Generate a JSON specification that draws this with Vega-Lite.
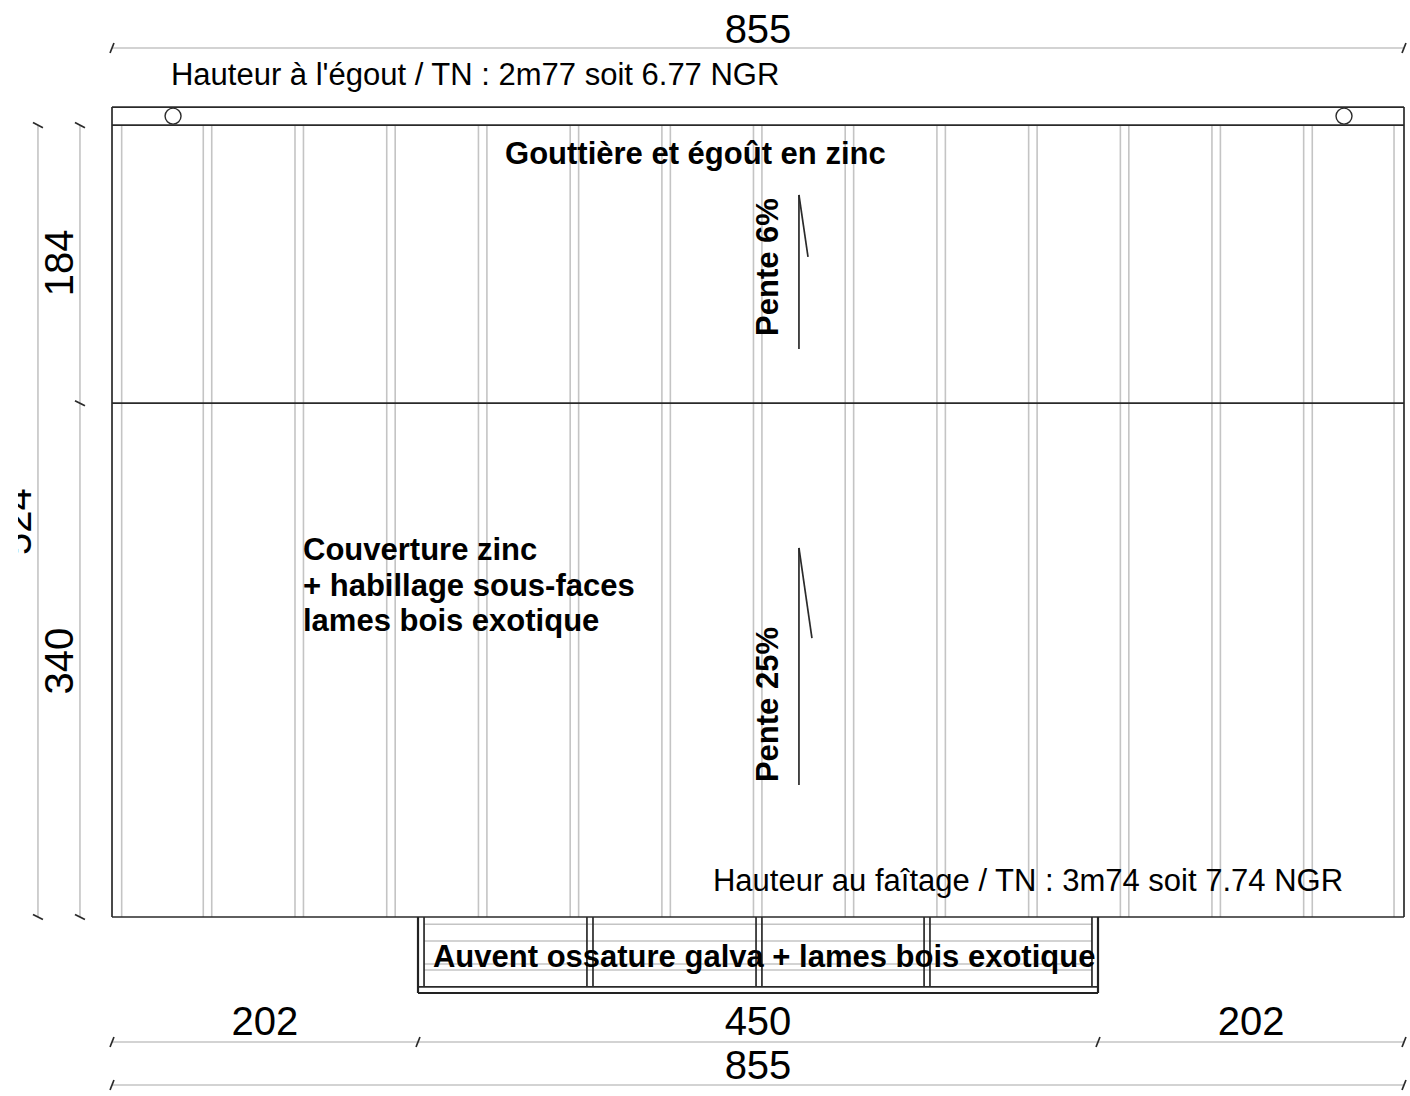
{"$schema":"https://vega.github.io/schema/vega-lite/v6.json","width":1410,"height":1096,"padding":0,"autosize":{"type":"none"},"background":"white","config":{"view":{"stroke":null}},
"datasets":{
"gray":[
{"x":6.4,"y":0,"x2":6.4,"y2":524},{"x":60.4,"y":0,"x2":60.4,"y2":524},{"x":66.0,"y":0,"x2":66.0,"y2":524},{"x":121.1,"y":0,"x2":121.1,"y2":524},{"x":126.7,"y":0,"x2":126.7,"y2":524},{"x":181.8,"y":0,"x2":181.8,"y2":524},{"x":187.4,"y":0,"x2":187.4,"y2":524},{"x":242.5,"y":0,"x2":242.5,"y2":524},{"x":248.1,"y":0,"x2":248.1,"y2":524},{"x":303.2,"y":0,"x2":303.2,"y2":524},{"x":308.8,"y":0,"x2":308.8,"y2":524},{"x":363.9,"y":0,"x2":363.9,"y2":524},{"x":369.5,"y":0,"x2":369.5,"y2":524},{"x":424.5,"y":0,"x2":424.5,"y2":524},{"x":430.1,"y":0,"x2":430.1,"y2":524},{"x":485.2,"y":0,"x2":485.2,"y2":524},{"x":490.8,"y":0,"x2":490.8,"y2":524},{"x":545.9,"y":0,"x2":545.9,"y2":524},{"x":551.5,"y":0,"x2":551.5,"y2":524},{"x":606.6,"y":0,"x2":606.6,"y2":524},{"x":612.2,"y":0,"x2":612.2,"y2":524},{"x":667.3,"y":0,"x2":667.3,"y2":524},{"x":672.9,"y":0,"x2":672.9,"y2":524},{"x":727.9,"y":0,"x2":727.9,"y2":524},{"x":733.5,"y":0,"x2":733.5,"y2":524},{"x":788.6,"y":0,"x2":788.6,"y2":524},{"x":794.3,"y":0,"x2":794.3,"y2":524},{"x":848.4,"y":0,"x2":848.4,"y2":524},
{"x":0,"y":575.1,"x2":855,"y2":575.1},{"x":0,"y":-82.7,"x2":855,"y2":-82.7},{"x":0,"y":-111.2,"x2":855,"y2":-111.2},
{"x":-49,"y":0,"x2":-49,"y2":524},{"x":-21.2,"y":0,"x2":-21.2,"y2":524},
{"x":206.5,"y":-4.8,"x2":648.5,"y2":-4.8},{"x":206.5,"y":-15.9,"x2":648.5,"y2":-15.9},{"x":206.5,"y":-31.1,"x2":648.5,"y2":-31.1},{"x":206.5,"y":-35.1,"x2":648.5,"y2":-35.1}],
"dark":[
{"x":0,"y":0,"x2":855,"y2":0},{"x":0,"y":340,"x2":855,"y2":340},{"x":0,"y":524,"x2":855,"y2":524},{"x":0,"y":536,"x2":855,"y2":536},
{"x":0,"y":0,"x2":0,"y2":536},{"x":855,"y":0,"x2":855,"y2":536},
{"x":206.5,"y":0,"x2":206.5,"y2":-46.3},{"x":314.3,"y":0,"x2":314.3,"y2":-46.3},{"x":318.3,"y":0,"x2":318.3,"y2":-46.3},{"x":426.2,"y":0,"x2":426.2,"y2":-46.3},{"x":430.1,"y":0,"x2":430.1,"y2":-46.3},{"x":537.4,"y":0,"x2":537.4,"y2":-46.3},{"x":541.3,"y":0,"x2":541.3,"y2":-46.3},{"x":648.5,"y":0,"x2":648.5,"y2":-46.3},
{"x":202.5,"y":-46.3,"x2":652.5,"y2":-46.3},
{"x":454.6,"y":477.8,"x2":454.6,"y2":375.9},{"x":454.6,"y":477.8,"x2":460.6,"y2":436.8},
{"x":454.6,"y":244.2,"x2":454.6,"y2":87.4},{"x":454.6,"y":244.2,"x2":463.2,"y2":184.6},
{"x":-1.3,"y":571.8,"x2":1.3,"y2":578.4},{"x":853.7,"y":571.8,"x2":856.3,"y2":578.4},
{"x":-1.3,"y":-86,"x2":1.3,"y2":-79.4},{"x":201.2,"y":-86,"x2":203.8,"y2":-79.4},{"x":651.2,"y":-86,"x2":653.8,"y2":-79.4},{"x":853.7,"y":-86,"x2":856.3,"y2":-79.4},
{"x":-1.3,"y":-114.5,"x2":1.3,"y2":-107.9},{"x":853.7,"y":-114.5,"x2":856.3,"y2":-107.9},
{"x":-52.3,"y":1.7,"x2":-45.7,"y2":-1.7},{"x":-52.3,"y":525.7,"x2":-45.7,"y2":522.3},
{"x":-24.5,"y":1.7,"x2":-17.9,"y2":-1.7},{"x":-24.5,"y":341.7,"x2":-17.9,"y2":338.3},{"x":-24.5,"y":525.7,"x2":-17.9,"y2":522.3}],
"heavy":[{"x":202.5,"y":-50.3,"x2":652.5,"y2":-50.3},{"x":202.5,"y":0,"x2":202.5,"y2":-50.3},{"x":652.5,"y":0,"x2":652.5,"y2":-50.3}],
"holes":[{"x":40.4,"y":530},{"x":815.3,"y":530}],
"dims":[{"x":427.5,"y":578.4,"label":"855"},{"x":101.2,"y":-78.1,"label":"202"},{"x":427.5,"y":-78.1,"label":"450"},{"x":753.8,"y":-78.1,"label":"202"},{"x":427.5,"y":-107.2,"label":"855"}],
"dimsV":[{"x":-25.8,"y":432.8,"label":"184"},{"x":-25.8,"y":169.4,"label":"340"},{"x":-53.6,"y":261.7,"label":"524"}],
"notes":[{"x":39,"y":550.6,"label":"Hauteur à l'égout / TN : 2m77 soit 6.77 NGR"},{"x":397.7,"y":17.2,"label":"Hauteur au faîtage / TN : 3m74 soit 7.74 NGR"}],
"bold":[{"x":260.1,"y":498.3,"label":"Gouttière et égoût en zinc"},{"x":126.4,"y":236.3,"label":"Couverture zinc"},{"x":126.4,"y":212.4,"label":"+ habillage sous-faces"},{"x":126.4,"y":189.3,"label":"lames bois exotique"},{"x":212.4,"y":-33.1,"label":"Auvent ossature galva + lames bois exotique"}],
"boldV":[{"x":440.7,"y":384.5,"label":"Pente 6%"},{"x":440.7,"y":89.3,"label":"Pente 25%"}],
"mask":[{"x":-74.1,"x2":-62.2,"y":232.9,"y2":289.2}]
},
"encoding":{"x":{"field":"x","type":"quantitative","axis":null,"scale":{"domain":[-74.12,858.97],"nice":false,"zero":false}},"y":{"field":"y","type":"quantitative","axis":null,"scale":{"domain":[-118.46,606.84],"nice":false,"zero":false}}},
"layer":[
{"data":{"name":"gray"},"mark":{"type":"rule","stroke":"#c4c4c4","strokeWidth":1.6},"encoding":{"x2":{"field":"x2"},"y2":{"field":"y2"}}},
{"data":{"name":"dark"},"mark":{"type":"rule","stroke":"#2a2a2a","strokeWidth":1.7},"encoding":{"x2":{"field":"x2"},"y2":{"field":"y2"}}},
{"data":{"name":"heavy"},"mark":{"type":"rule","stroke":"#222222","strokeWidth":2.2},"encoding":{"x2":{"field":"x2"},"y2":{"field":"y2"}}},
{"data":{"name":"holes"},"mark":{"type":"point","shape":"circle","filled":false,"stroke":"#2a2a2a","strokeWidth":1.4,"size":256,"opacity":1}},
{"data":{"name":"dims"},"mark":{"type":"text","font":"Liberation Sans","fontSize":40,"align":"center","baseline":"alphabetic","fill":"#000000"},"encoding":{"text":{"field":"label"}}},
{"data":{"name":"dimsV"},"mark":{"type":"text","font":"Liberation Sans","fontSize":40,"align":"center","baseline":"alphabetic","angle":270,"fill":"#000000"},"encoding":{"text":{"field":"label"}}},
{"data":{"name":"mask"},"mark":{"type":"rect","fill":"white"},"encoding":{"x2":{"field":"x2"},"y2":{"field":"y2"}}},
{"data":{"name":"notes"},"mark":{"type":"text","font":"Liberation Sans","fontSize":31,"align":"left","baseline":"alphabetic","fill":"#000000"},"encoding":{"text":{"field":"label"}}},
{"data":{"name":"bold"},"mark":{"type":"text","font":"Liberation Sans","fontSize":31,"fontWeight":"bold","align":"left","baseline":"alphabetic","fill":"#000000"},"encoding":{"text":{"field":"label"}}},
{"data":{"name":"boldV"},"mark":{"type":"text","font":"Liberation Sans","fontSize":31,"fontWeight":"bold","align":"left","baseline":"alphabetic","angle":270,"fill":"#000000"},"encoding":{"text":{"field":"label"}}}
]}
